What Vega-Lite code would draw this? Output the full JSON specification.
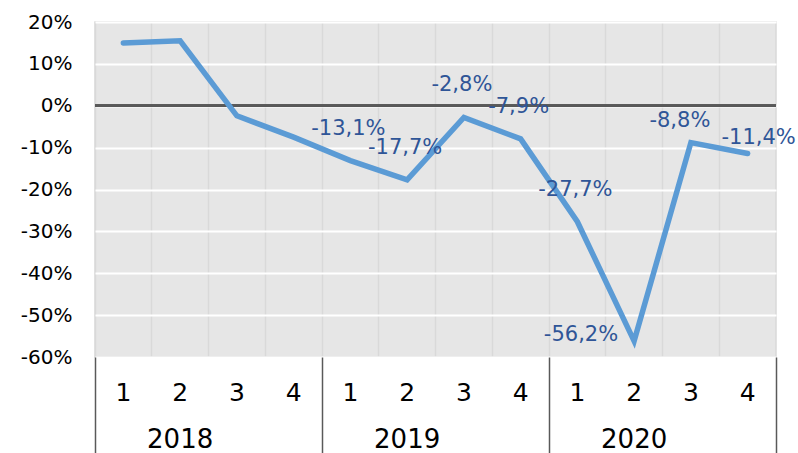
{
  "$schema": "https://vega.github.io/schema/vega-lite/v6.json",
  "width": 681,
  "height": 335,
  "autosize": "none",
  "padding": {"left": 95, "top": 22, "right": 22, "bottom": 96},
  "background": "white",
  "config": {
    "view": {"fill": "#e6e6e6", "stroke": "#d9d9d9", "strokeWidth": 1.5},
    "axis": {"labelFont": "DejaVu Sans", "labelColor": "#000000"}
  },
  "data": {
    "values": [
      {"year": 2018, "quarter": 1, "period": "2018 Q1", "v": 15.0},
      {"year": 2018, "quarter": 2, "period": "2018 Q2", "v": 15.5},
      {"year": 2018, "quarter": 3, "period": "2018 Q3", "v": -2.4},
      {"year": 2018, "quarter": 4, "period": "2018 Q4", "v": -7.5},
      {"year": 2019, "quarter": 1, "period": "2019 Q1", "v": -13.1},
      {"year": 2019, "quarter": 2, "period": "2019 Q2", "v": -17.7},
      {"year": 2019, "quarter": 3, "period": "2019 Q3", "v": -2.8},
      {"year": 2019, "quarter": 4, "period": "2019 Q4", "v": -7.9},
      {"year": 2020, "quarter": 1, "period": "2020 Q1", "v": -27.7},
      {"year": 2020, "quarter": 2, "period": "2020 Q2", "v": -56.2},
      {"year": 2020, "quarter": 3, "period": "2020 Q3", "v": -8.8},
      {"year": 2020, "quarter": 4, "period": "2020 Q4", "v": -11.4}
    ]
  },
  "transform": [
    {"calculate": "(datum.v < 0 ? '-' : '') + replace(format(abs(datum.v), '.1f'), '.', ',') + '%'", "as": "label"}
  ],
  "resolve": {"axis": {"x": "independent"}},
  "layer": [
    {
      "mark": {"type": "line", "color": "#5b9bd5", "strokeWidth": 5, "opacity": 0},
      "encoding": {
        "x": {
          "field": "period", "type": "ordinal", "sort": null, "bandPosition": 0.5,
          "scale": {"type": "band", "paddingInner": 0, "paddingOuter": 0},
          "axis": {"orient": "bottom", "grid": true, "bandPosition": 0, "gridColor": "#d9d9d9", "gridWidth": 1.5, "labels": false, "ticks": false, "domain": false, "title": null}
        },
        "y": {
          "field": "v", "type": "quantitative",
          "scale": {"domain": [-60, 20], "nice": false, "zero": false},
          "axis": {
            "orient": "left",
            "values": [-60, -50, -40, -30, -20, -10, 0, 10, 20],
            "labelExpr": "datum.value + '%'",
            "domain": false, "ticks": false, "tickSize": 0, "labelPadding": 23,
            "gridColor": "#ffffff", "gridWidth": 2, "labelFontSize": 20, "title": null
          }
        }
      }
    },
    {
      "mark": {"type": "rule", "color": "#595959", "strokeWidth": 2},
      "encoding": {
        "y": {"datum": 0, "type": "quantitative"}
      }
    },
    {
      "mark": {"type": "line", "color": "#5b9bd5", "strokeWidth": 5.5, "strokeCap": "round"},
      "encoding": {
        "x": {"field": "period", "type": "ordinal", "sort": null, "bandPosition": 0.5, "axis": null},
        "y": {"field": "v", "type": "quantitative"}
      }
    },
    {
      "mark": {"type": "point", "opacity": 0},
      "encoding": {
        "x": {
          "field": "period", "type": "ordinal", "sort": null,
          "axis": {"orient": "bottom", "labelExpr": "slice(datum.value, -1)", "labelFontSize": 25, "labelPadding": 35, "labelBaseline": "middle", "labelAngle": 0, "ticks": false, "tickSize": 0, "domain": false, "grid": false, "title": null, "labelOverlap": false}
        }
      }
    },
    {
      "mark": {"type": "point", "opacity": 0},
      "encoding": {
        "x": {
          "field": "period", "type": "ordinal", "sort": null,
          "axis": {"orient": "bottom", "values": ["2018 Q2", "2019 Q2", "2020 Q2"], "bandPosition": 1, "labelExpr": "slice(datum.value, 0, 4)", "labelFontSize": 26, "labelPadding": 82, "labelBaseline": "middle", "labelAngle": 0, "ticks": false, "tickSize": 0, "domain": false, "grid": false, "title": null, "labelOverlap": false}
        }
      }
    },
    {
      "mark": {"type": "point", "opacity": 0},
      "encoding": {
        "x": {
          "field": "period", "type": "ordinal", "sort": null,
          "axis": {"orient": "bottom", "values": ["2018 Q1", "2019 Q1", "2020 Q1"], "bandPosition": 0, "labels": false, "ticks": true, "tickSize": 96, "tickColor": "#595959", "tickWidth": 1.5, "domain": false, "grid": false, "title": null}
        }
      }
    },
    {
      "mark": {"type": "point", "opacity": 0},
      "encoding": {
        "x": {
          "field": "period", "type": "ordinal", "sort": null,
          "axis": {"orient": "bottom", "values": ["2020 Q4"], "bandPosition": 1, "labels": false, "ticks": true, "tickSize": 96, "tickColor": "#595959", "tickWidth": 1.5, "domain": false, "grid": false, "title": null}
        }
      }
    },
    {
      "transform": [{"filter": "datum.year == 2019 || (datum.year == 2020 && datum.quarter == 1)"}],
      "mark": {"type": "text", "font": "DejaVu Sans", "fontSize": 21, "color": "#2f5597", "align": "center", "baseline": "middle", "dx": -2, "dy": -32},
      "encoding": {
        "x": {"field": "period", "type": "ordinal", "sort": null, "bandPosition": 0.5, "axis": null},
        "y": {"field": "v", "type": "quantitative"},
        "text": {"field": "label"}
      }
    },
    {
      "transform": [{"filter": "datum.year == 2020 && datum.quarter == 2"}],
      "mark": {"type": "text", "font": "DejaVu Sans", "fontSize": 21, "color": "#2f5597", "align": "right", "baseline": "middle", "dx": -16, "dy": -6},
      "encoding": {
        "x": {"field": "period", "type": "ordinal", "sort": null, "bandPosition": 0.5, "axis": null},
        "y": {"field": "v", "type": "quantitative"},
        "text": {"field": "label"}
      }
    },
    {
      "transform": [{"filter": "datum.year == 2020 && datum.quarter == 3"}],
      "mark": {"type": "text", "font": "DejaVu Sans", "fontSize": 21, "color": "#2f5597", "align": "center", "baseline": "middle", "dx": -11, "dy": -22},
      "encoding": {
        "x": {"field": "period", "type": "ordinal", "sort": null, "bandPosition": 0.5, "axis": null},
        "y": {"field": "v", "type": "quantitative"},
        "text": {"field": "label"}
      }
    },
    {
      "transform": [{"filter": "datum.year == 2020 && datum.quarter == 4"}],
      "mark": {"type": "text", "font": "DejaVu Sans", "fontSize": 21, "color": "#2f5597", "align": "center", "baseline": "middle", "dx": 11, "dy": -15},
      "encoding": {
        "x": {"field": "period", "type": "ordinal", "sort": null, "bandPosition": 0.5, "axis": null},
        "y": {"field": "v", "type": "quantitative"},
        "text": {"field": "label"}
      }
    }
  ]
}
